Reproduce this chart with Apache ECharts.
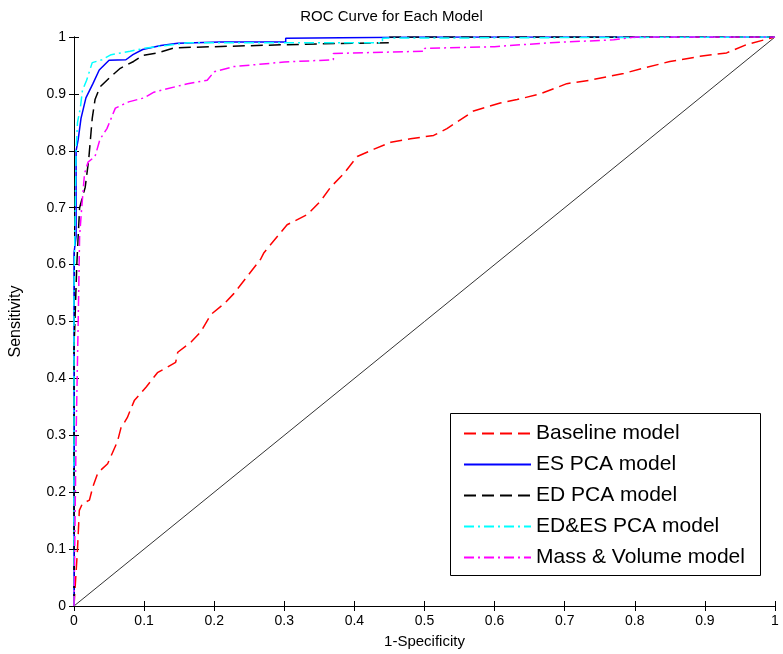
<!DOCTYPE html>
<html>
<head>
<meta charset="utf-8">
<script src="https://cdn.jsdelivr.net/npm/echarts@6/dist/echarts.min.js"></script>
<style>html,body{margin:0;padding:0;background:#fff;}#c{width:783px;height:654px;}</style>
</head>
<body>
<div id="c"></div>
<script>
const seriesNames = ['Baseline model', 'ES PCA model', 'ED PCA model', 'ED&ES PCA model', 'Mass & Volume model'];
const xTicks = [0, 0.1, 0.2, 0.3, 0.4, 0.5, 0.6, 0.7, 0.8, 0.9, 1];

const baselineRoc = [[0,0],[0.005,0.1],[0.0076,0.168],[0.012,0.18],[0.022,0.186],[0.027,0.21],[0.034,0.234],[0.048,0.25],[0.053,0.264],[0.062,0.289],[0.067,0.313],[0.076,0.331],[0.086,0.361],[0.103,0.385],[0.119,0.41],[0.145,0.428],[0.148,0.446],[0.167,0.464],[0.181,0.482],[0.195,0.512],[0.214,0.531],[0.228,0.549],[0.247,0.579],[0.266,0.609],[0.271,0.621],[0.304,0.67],[0.333,0.688],[0.352,0.712],[0.366,0.736],[0.385,0.76],[0.404,0.79],[0.428,0.803],[0.452,0.815],[0.48,0.821],[0.513,0.827],[0.532,0.839],[0.547,0.851],[0.57,0.87],[0.608,0.884],[0.632,0.89],[0.665,0.9],[0.703,0.918],[0.736,0.924],[0.784,0.936],[0.812,0.945],[0.85,0.957],[0.893,0.966],[0.931,0.972],[0.96,0.987],[0.988,0.996],[1,1]];
const esPcaRoc = [[0,0],[0,0.62],[0.003,0.65],[0.003,0.8],[0.006,0.82],[0.01,0.857],[0.017,0.893],[0.027,0.918],[0.036,0.942],[0.05,0.959],[0.074,0.96],[0.084,0.969],[0.098,0.978],[0.124,0.985],[0.148,0.989],[0.209,0.991],[0.302,0.991],[0.302,0.998],[0.5,1],[1,1]];
const edPcaRoc = [[0,0],[0,0.45],[0.004,0.6],[0.008,0.7],[0.016,0.736],[0.021,0.785],[0.026,0.857],[0.03,0.89],[0.037,0.912],[0.052,0.93],[0.066,0.945],[0.085,0.957],[0.099,0.968],[0.119,0.972],[0.143,0.981],[0.2,0.983],[0.35,0.988],[0.45,0.99],[0.45,1],[1,1]];
const edEsPcaRoc = [[0,0],[0,0.55],[0.003,0.8],[0.005,0.85],[0.009,0.875],[0.012,0.906],[0.018,0.924],[0.026,0.955],[0.04,0.96],[0.053,0.969],[0.08,0.975],[0.1,0.98],[0.162,0.99],[0.44,0.99],[0.44,0.998],[1,1]];
const massVolRoc = [[0,0],[0.003,0.3],[0.006,0.5],[0.008,0.65],[0.011,0.7],[0.015,0.76],[0.02,0.78],[0.03,0.79],[0.037,0.82],[0.047,0.839],[0.059,0.875],[0.078,0.886],[0.1,0.893],[0.114,0.903],[0.162,0.918],[0.19,0.924],[0.2,0.939],[0.228,0.948],[0.3,0.956],[0.37,0.96],[0.37,0.971],[0.5,0.975],[0.5,0.98],[0.6,0.983],[0.68,0.99],[0.77,0.995],[0.8,1],[1,1]];
const chanceLine = [[0,0],[1,1]];

const FONT = 'Liberation Sans';
const chart = echarts.init(document.getElementById('c'), null, {renderer: 'canvas'});
const axisCommon = {
  type: 'value', min: 0, max: 1, interval: 0.1,
  axisLine: {show: true, lineStyle: {color: '#000', width: 1}},
  axisTick: {show: true, inside: true, length: 5, lineStyle: {color: '#000'}},
  splitLine: {show: false},
  axisLabel: {color: '#000', fontFamily: FONT, fontSize: 14, formatter: v => String(Math.round(v*10)/10)}
};
function lineSeries(name, data, color, type, width) {
  return {
    name, type: 'line', data, symbol: 'none', showSymbol: false, animation: false,
    lineStyle: {color, type, width}, itemStyle: {color}, z: 3
  };
}
const option = {
  backgroundColor: '#fff',
  animation: false,
  title: {text: 'ROC Curve for Each Model', left: 'center', top: 4,
    textStyle: {fontFamily: FONT, fontSize: 15, fontWeight: 'normal', color: '#000'}},
  grid: {left: 73, right: 8, top: 37, bottom: 37, containLabel: false},
  xAxis: [
    Object.assign({}, axisCommon, {position: 'bottom', name: '1-Specificity', nameLocation: 'middle', nameGap: 28,
      nameTextStyle: {fontFamily: FONT, fontSize: 15, color: '#000'}, axisLabel: Object.assign({}, axisCommon.axisLabel, {margin: 8})}),
    Object.assign({}, axisCommon, {position: 'top', axisLabel: {show: false}})
  ],
  yAxis: [
    Object.assign({}, axisCommon, {position: 'left', name: 'Sensitivity', nameLocation: 'middle', nameGap: 50,
      nameTextStyle: {fontFamily: FONT, fontSize: 16, color: '#000'}, axisLabel: Object.assign({}, axisCommon.axisLabel, {margin: 8})}),
    Object.assign({}, axisCommon, {position: 'right', axisLabel: {show: false}})
  ],
  graphic: [{
    type: 'rect', left: 450, top: 413, z: 10,
    shape: {width: 310, height: 162},
    style: {fill: '#fff', stroke: '#000', lineWidth: 1}
  }],
  legend: {
    data: seriesNames, orient: 'vertical', left: 463, top: 423, z: 20,
    itemWidth: 67, itemHeight: 14, itemGap: 10, itemTextGap: 5,
    padding: 0,
    itemStyle: {opacity: 0},
    textStyle: {fontFamily: FONT, fontSize: 21, color: '#000'}
  },
  series: [
    lineSeries('Baseline model', baselineRoc, '#ff0000', [12, 6], 1.5),
    lineSeries('ES PCA model', esPcaRoc, '#0000ff', 'solid', 1.5),
    lineSeries('ED PCA model', edPcaRoc, '#000000', [12, 6], 1.5),
    lineSeries('ED&ES PCA model', edEsPcaRoc, '#00ffff', [10, 4, 2, 4], 1.5),
    lineSeries('Mass & Volume model', massVolRoc, '#ff00ff', [10, 4, 2, 4], 1.5),
    {name: 'chance', type: 'line', data: chanceLine, symbol: 'none', lineStyle: {color: '#333', width: 1}, z: 2, silent: true}
  ]
};
chart.setOption(option);
</script>
</body>
</html>
